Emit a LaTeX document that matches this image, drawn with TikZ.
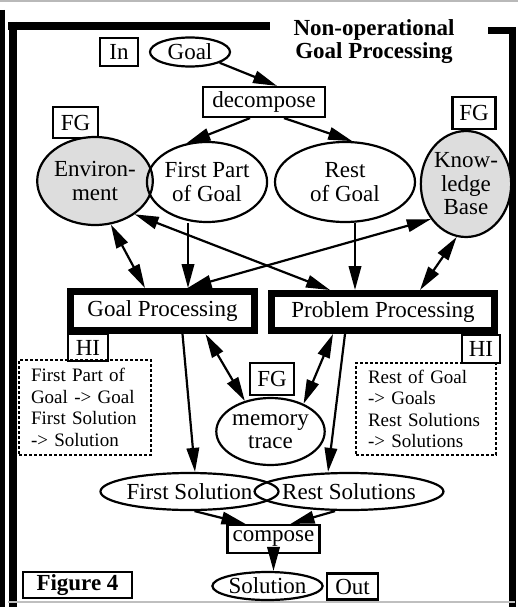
\documentclass[tikz,border=0pt]{standalone}
\usepackage{fontspec}
\setmainfont{Liberation Serif}
\usetikzlibrary{shapes.geometric,arrows.meta}
\begin{document}
\begin{tikzpicture}[x=1pt,y=-1pt,
  lw/.style={line width=2.2pt},
  txt/.style={font=\fontsize{23}{23.5}\selectfont},
  ell/.style={ellipse,draw,lw,inner sep=0pt,txt,align=center},
  bx/.style={rectangle,draw,lw,inner sep=0pt,txt},
  bigbox/.style={rectangle,draw,line width=7pt,inner sep=0pt,txt},
  dotbox/.style={rectangle,draw,line width=1.5pt,dash pattern=on 3pt off 2pt,inner sep=0pt,align=left,font=\fontsize{19}{21.5}\selectfont},
  shade/.style={fill=gray!27},
  arr/.style={lw,-{Triangle[length=24pt,width=12.5pt]}},
  darr/.style={lw,{Triangle[length=24pt,width=12.5pt]}-{Triangle[length=24pt,width=12.5pt]}},
  frame/.style={line width=8pt}
]
\useasboundingbox (0,0) rectangle (524,607);
% scan edges and frame
\draw[gray!55,line width=2pt] (0,1.5) -- (518,1.5);
\draw[line width=5pt] (2.5,10) -- (2.5,607);
\draw[frame] (8,26) -- (270,26);
\draw[frame] (12.5,22) -- (12.5,607);
\draw[line width=7pt] (488,31) -- (515.5,31);
\draw[line width=7pt] (512,27.5) -- (512,607);
\draw[gray!50,line width=2pt] (8,602) -- (515,602);

% title
\node[font=\bfseries\fontsize{23}{23}\selectfont,align=center] (title) at (374,42) {Non-operational\\Goal Processing};

% top part
\node[bx,minimum width=38pt,minimum height=28pt] (in) at (119,52) {In};
\node[ell,minimum width=80pt,minimum height=29pt] (goal) at (190,52) {Goal};
\node[bx,minimum width=122pt,minimum height=30pt] (dec) at (264,102) {decompose};
\node[bx,minimum width=45pt,minimum height=31pt] (fgl) at (75.5,122.5) {FG};
\node[bx,minimum width=43pt,minimum height=32pt] (fgr) at (474,113) {FG};
\node[ell,shade,minimum width=94pt,minimum height=88pt] (env) at (95,181) {Environ-\\ment};
\node[ell,minimum width=117pt,minimum height=80pt] (fpg) at (207,182) {First Part\\of Goal};
\node[ell,minimum width=140pt,minimum height=80pt] (rog) at (345,182) {Rest\\of Goal};
\node[ell,shade,minimum width=88pt,minimum height=106pt] (kb) at (466,184) {Know-\\ledge\\Base};

% processing boxes
\node[bx,minimum width=40pt,minimum height=27pt] (hil) at (88,347.5) {HI};
\node[bx,minimum width=38pt,minimum height=28pt] (hir) at (481,349) {HI};
\node[bigbox,minimum width=184pt,minimum height=39pt] (gp) at (162.5,311) {Goal Processing};
\node[bigbox,minimum width=223pt,minimum height=37pt] (pp) at (383,312) {Problem Processing};

% dotted boxes
\node[dotbox,minimum width=132pt,minimum height=95pt,text width=108pt] (dl) at (85,407.5) {First Part of\\Goal -> Goal\\First Solution\\-> Solution};
\node[dotbox,minimum width=140pt,minimum height=92pt,text width=116pt] (dr) at (426,409) {Rest of Goal\\-> Goals\\Rest Solutions\\-> Solutions};

% memory trace
\node[bx,minimum width=44pt,minimum height=32pt] (fgm) at (272,379) {FG};
\node[ell,minimum width=105pt,minimum height=67pt] (mem) at (270.5,431.5) {memory\\trace};

% solutions
\node[ell,minimum width=145pt,minimum height=37pt] (fs) at (189.5,491.5) {First Solution};
\node[ell,minimum width=174pt,minimum height=37pt] (rs) at (349,491.5) {Rest Solutions};
\node[bx,minimum width=92pt,minimum height=28pt] (comp) at (273.5,539) {compose};
\node[ell,minimum width=97pt,minimum height=28pt] (sol) at (267.5,586) {Solution};
\node[bx,minimum width=51pt,minimum height=26pt] (out) at (352.5,586.5) {Out};
\node[bx,line width=2.5pt,font=\bfseries\fontsize{23}{23}\selectfont,minimum width=109pt,minimum height=26pt] (fig) at (77.5,585) {Figure 4};

% connectors
\draw[arr] (goal.-20) -- ([xshift=13pt]dec.north);
\draw[arr] ([xshift=-14pt]dec.south) -- (fpg.118);
\draw[arr] ([xshift=20pt]dec.south) -- (rog.80);
\draw[darr] (env.-70) -- ([xshift=-17.5pt]gp.north);
\draw[darr] (env.-40) -- ([xshift=-53pt]pp.north);
\draw[darr] (kb.-135) -- ([xshift=25pt]gp.north);
\draw[darr] (kb.-100) -- ([xshift=37pt]pp.north);
\draw[arr] ([xshift=-19pt]fpg.south) -- ([xshift=25.5pt]gp.north);
\draw[arr] ([xshift=10pt]rog.south) -- ([xshift=-28pt]pp.north);
\draw[arr] ([xshift=20pt]gp.south) -- ([xshift=5.5pt]fs.north);
\draw[darr] ([xshift=43pt]gp.south) -- (mem.130);
\draw[darr] ([xshift=-50pt]pp.south) -- (mem.40);
\draw[arr] ([xshift=-38pt]pp.south) -- ([xshift=-21pt]rs.north);
\draw[arr] ([xshift=5pt]fs.south) -- ([xshift=-28pt]comp.north);
\draw[arr] ([xshift=-14pt]rs.south) -- ([xshift=17pt]comp.north);
\draw[arr] (comp.south) -- (comp.south |- sol.north);
\end{tikzpicture}
\end{document}
